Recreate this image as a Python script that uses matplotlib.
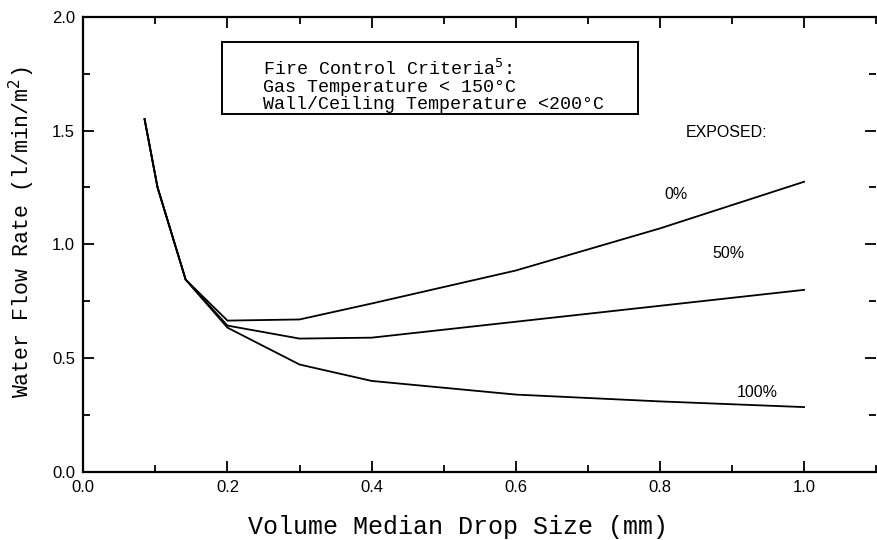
import matplotlib.pyplot as plt
from matplotlib.patches import Rectangle
from matplotlib.ticker import MultipleLocator, FormatStrFormatter

# drop size (mm) and required water flow rate (l/min/m2)
x_common = [0.085, 0.103, 0.142]
y_common = [1.55, 1.25, 0.845]

drop_size = [0.2, 0.3, 0.4, 0.6, 0.8, 1.0]
flow_0 = [0.665, 0.67, 0.74, 0.885, 1.07, 1.275]
flow_50 = [0.643, 0.586, 0.59, 0.66, 0.73, 0.80]
flow_100 = [0.634, 0.472, 0.40, 0.34, 0.31, 0.285]

series_labels = ['0%', '50%', '100%']
criteria = ['Fire Control Criteria$^5$:',
            'Gas Temperature < 150\u00b0C',
            'Wall/Ceiling Temperature <200\u00b0C']


def main():
    fig = plt.figure(figsize=(8.77, 5.4), dpi=100)
    ax = fig.add_axes([0.095, 0.126, 0.904, 0.843])

    mono = 'Liberation Mono'
    sans = ['Liberation Sans', 'DejaVu Sans']

    for flows in (flow_0, flow_50, flow_100):
        xs = x_common + drop_size
        ys = y_common + flows
        ax.plot(xs, ys, color='black', lw=1.3)

    ax.set_xlim(0, 1.1)
    ax.set_ylim(0, 2.0)
    ax.xaxis.set_major_locator(MultipleLocator(0.2))
    ax.xaxis.set_minor_locator(MultipleLocator(0.1))
    ax.yaxis.set_major_locator(MultipleLocator(0.5))
    ax.yaxis.set_minor_locator(MultipleLocator(0.25))
    ax.xaxis.set_major_formatter(FormatStrFormatter('%.1f'))
    ax.yaxis.set_major_formatter(FormatStrFormatter('%.1f'))
    ax.tick_params(which='both', direction='in', top=True, right=True,
                   width=1.3, labelsize=12, pad=6)
    ax.tick_params(which='major', length=8)
    ax.tick_params(which='minor', length=5)
    for lab in ax.get_xticklabels() + ax.get_yticklabels():
        lab.set_family(sans)

    for side in ('left', 'bottom', 'top'):
        ax.spines[side].set_linewidth(1.6)
    ax.spines['right'].set_visible(False)

    ax.set_xlabel('Volume Median Drop Size (mm)', family=mono, fontsize=18)
    ax.xaxis.set_label_coords(0.472, -0.095)
    ax.set_ylabel('Water Flow Rate (l/min/m$^2$)', family=mono, fontsize=15.5)
    ax.yaxis.set_label_coords(-0.058, 0.527)

    # criteria box
    ax.add_patch(Rectangle((0.175, 0.787), 0.525, 0.158, transform=ax.transAxes,
                           facecolor='white', edgecolor='black', lw=1.4,
                           zorder=3))
    ax.text(0.227, 0.849, '\n'.join(criteria), transform=ax.transAxes,
            family=mono, fontsize=13.2, linespacing=1.0, va='center',
            ha='left', zorder=4)

    ax.text(0.893, 1.49, 'EXPOSED:', family=sans, fontsize=11.5, ha='center',
            va='center')
    pos = [(0.822, 1.22), (0.895, 0.96), (0.935, 0.35)]
    for lab, (tx, ty) in zip(series_labels, pos):
        ax.text(tx, ty, lab, family=sans, fontsize=11.5, ha='center',
                va='center')

    plt.savefig('out.png', dpi=100)


if __name__ == "__main__":
    main()
